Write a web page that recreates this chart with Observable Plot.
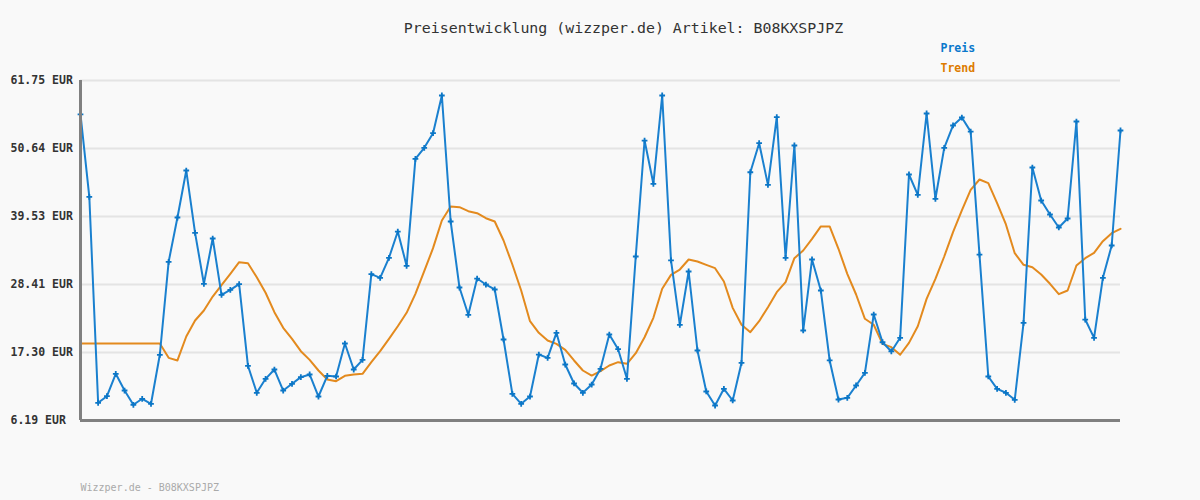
<!DOCTYPE html>
<html>
<head>
<meta charset="utf-8">
<script src="https://cdn.jsdelivr.net/npm/d3@7"></script>
<script src="https://cdn.jsdelivr.net/npm/@observablehq/plot@0.6"></script>
<style>
  html, body { margin: 0; padding: 0; background: #f9f9f9; }
  #chart { width: 1200px; height: 500px; }
</style>
</head>
<body>
<div id="chart"></div>
<script>
const titleText = "Preisentwicklung (wizzper.de) Artikel: B08KXSPJPZ";
const footerText = "Wizzper.de - B08KXSPJPZ";
const seriesNames = ["Preis", "Trend"];
const seriesColors = ["#1a80cf", "#e38a1e"];
const legendColors = ["#0a78cc", "#dd7b00"];
const yTicks = [6.19, 17.30, 28.41, 39.53, 50.64, 61.75];

const preis = [
  56.2, 42.74, 9.08, 10.16, 13.82, 11.09, 8.76, 9.74, 8.92, 16.93,
  32.12, 39.36, 47.04, 36.86, 28.53, 35.93, 26.73, 27.55, 28.47, 15.13,
  10.72, 13.0, 14.52, 11.09, 12.19, 13.27, 13.71, 10.11, 13.49, 13.38,
  18.77, 14.52, 16.1, 30.1, 29.5, 32.78, 37.07, 31.47, 48.95, 50.75,
  53.14, 59.3, 38.71, 27.92, 23.46, 29.39, 28.41, 27.6, 19.43, 10.55,
  8.92, 10.11, 16.97, 16.43, 20.52, 15.34, 12.24, 10.72, 12.07, 14.63,
  20.24, 17.84, 13.0, 32.99, 51.94, 44.87, 59.3, 32.34, 21.83, 30.54,
  17.63, 10.93, 8.64, 11.37, 9.46, 15.62, 46.76, 51.5, 44.7, 55.75,
  32.78, 51.13, 20.9, 32.5, 27.43, 16.0, 9.62, 9.9, 11.91, 13.98,
  23.51, 18.98, 17.47, 19.7, 46.39, 43.07, 56.36, 42.42, 50.75, 54.4,
  55.7, 53.4, 33.3, 13.38, 11.37, 10.72, 9.57, 22.15, 47.53, 42.14,
  39.85, 37.73, 39.2, 55.05, 22.69, 19.7, 29.5, 34.79, 53.58
];

const trend = [
  18.77, 18.77, 18.77, 18.77, 18.77, 18.77, 18.77, 18.77, 18.77, 18.77,
  16.43, 16.0, 19.92, 22.53, 24.17, 26.45, 28.3, 30.16, 32.06, 31.89,
  29.6, 27.06, 23.89, 21.34, 19.54, 17.52, 16.1, 14.36, 12.89, 12.61,
  13.49, 13.7, 13.82, 15.72, 17.52, 19.54, 21.6, 23.79, 26.89, 30.59,
  34.35, 38.87, 41.16, 41.05, 40.4, 40.07, 39.25, 38.71, 35.6, 31.68,
  27.43, 22.42, 20.52, 19.26, 18.72, 17.74, 16.0, 14.36, 13.54, 14.25,
  15.18, 15.72, 15.45, 17.19, 19.8, 22.97, 27.71, 29.99, 30.86, 32.5,
  32.17, 31.63, 31.08, 28.9, 24.6, 21.83, 20.62, 22.42, 24.71, 27.16,
  28.79, 32.72, 33.97, 35.88, 37.9, 37.9, 34.25, 30.16, 26.78, 22.81,
  21.83, 18.72, 18.17, 16.93, 18.88, 21.6, 26.07, 29.33, 32.99, 36.96,
  40.51, 43.89, 45.57, 44.97, 41.7, 38.22, 33.53, 31.63, 31.24, 30.05,
  28.53, 26.83, 27.43, 31.52, 32.72, 33.59, 35.5, 36.8, 37.52
];

const preisData = preis.map((v, i) => ({i, v}));
const trendData = trend.map((v, i) => ({i, v}));
const yMin = yTicks[0], yMax = yTicks[yTicks.length - 1];

const mono = "'DejaVu Sans Mono', 'Liberation Mono', monospace";

const chart = Plot.plot({
  width: 1200,
  height: 500,
  marginLeft: 80,
  marginRight: 80,
  marginTop: 80,
  marginBottom: 80,
  style: {background: "#f9f9f9", fontFamily: mono},
  x: {domain: [0, preis.length - 1], axis: null},
  y: {domain: [yMin, yMax], axis: null},
  marks: [
    Plot.ruleY(yTicks.slice(1), {x1: 0, x2: preis.length - 1, stroke: "#e4e4e4", strokeWidth: 2}),
    Plot.line(trendData, {x: "i", y: "v", stroke: seriesColors[1], strokeWidth: 2}),
    Plot.line(preisData, {x: "i", y: "v", stroke: seriesColors[0], strokeWidth: 2}),
    Plot.dot(preisData, {x: "i", y: "v", symbol: "plus", r: 2, stroke: "#0b76c6", strokeWidth: 1.8}),
    Plot.ruleX([0], {y1: yMin, y2: yMax, stroke: "#808080", strokeWidth: 3}),
    Plot.ruleY([yMin], {x1: 0, x2: preis.length - 1, stroke: "#808080", strokeWidth: 3}),
    Plot.text(yTicks, {
      y: d => d, frameAnchor: "left", dx: -70, textAnchor: "start",
      text: d => d.toFixed(2) + " EUR", fontSize: 11.5, fontWeight: "bold", fill: "#333"
    }),
    Plot.text([titleText], {frameAnchor: "top", dy: -58, dx: 23, text: d => d, fontSize: 14.9, fill: "#333"}),
    Plot.text([seriesNames[0]], {
      frameAnchor: "top-left", dx: 860, dy: -37, textAnchor: "start",
      text: d => d, fontSize: 11.5, fontWeight: "bold", fill: legendColors[0]
    }),
    Plot.text([seriesNames[1]], {
      frameAnchor: "top-left", dx: 860, dy: -17, textAnchor: "start",
      text: d => d, fontSize: 11.5, fontWeight: "bold", fill: legendColors[1]
    }),
    Plot.text([footerText], {frameAnchor: "bottom-left", dy: 70, textAnchor: "start", text: d => d, fontSize: 10, fill: "#aaaaaa"})
  ]
});
document.getElementById("chart").appendChild(chart);
</script>
</body>
</html>
